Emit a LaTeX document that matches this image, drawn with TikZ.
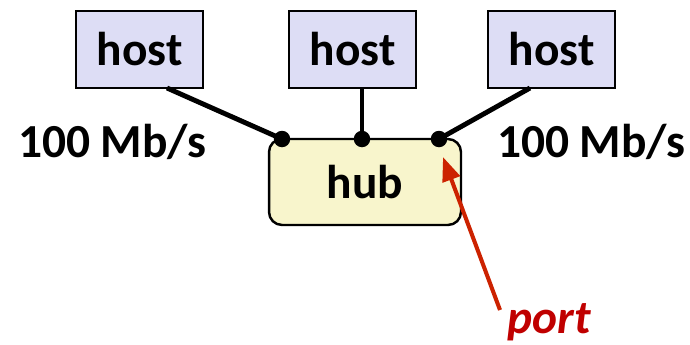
\documentclass[tikz,border=0pt]{standalone}
\usepackage{fontspec}
\setmainfont{Carlito}
\usetikzlibrary{arrows.meta,positioning}
\definecolor{hostfill}{RGB}{221,221,245}
\definecolor{hubfill}{RGB}{248,245,204}
\definecolor{arrowred}{RGB}{204,34,0}
\definecolor{portred}{RGB}{192,0,0}
\tikzset{
  hostbox/.style={draw=black, line width=1.4pt, fill=hostfill, minimum width=2.54cm, minimum height=1.54cm, inner sep=0pt, font=\fontsize{27}{32}\selectfont\bfseries},
  hubbox/.style={draw=black, line width=1.4pt, fill=hubfill, rounded corners=0.26cm, minimum width=3.84cm, minimum height=1.72cm, inner sep=0pt, font=\fontsize{27}{32}\selectfont\bfseries},
  rate/.style={font=\fontsize{27}{32}\selectfont\bfseries},
  link/.style={line width=2.8pt},
  portdot/.style={circle, fill=black, minimum size=0.33cm, inner sep=0pt}
}
\begin{document}
\begin{tikzpicture}[x=0.02cm,y=-0.02cm]
	\useasboundingbox (0,0) rectangle (690,345);
	\node[hostbox] (h1) at (139.5,49.5) {host};
	\node[hostbox] (h2) at (352.5,49.5) {host};
	\node[hostbox] (h3) at (551.5,49.5) {host};
	\node[hubbox] (hub) at (365,182) {\raisebox{-0.1cm}{hub}};
	\node[portdot] (p1) at (282,139) {};
	\node[portdot] (p2) at (362,139) {};
	\node[portdot] (p3) at (439,139) {};
	\coordinate (c1) at (167,88);
	\coordinate (c3) at (530,88);
	\draw[link] (c1) -- (p1.center);
	\draw[link] (h2.south -| p2) -- (p2.center);
	\draw[link] (c3) -- (p3.center);
	\node[rate] (r1) at (112,142) {100 Mb/s};
	\node[rate] (r2) at (591,142) {100 Mb/s};
	\node[font=\fontsize{27}{32}\selectfont\bfseries\itshape, text=portred] (port) at (549,322) {port};
	\coordinate (a0) at (500,310);
	\coordinate (tip) at (443,157);
	\draw[-{Triangle[length=0.48cm,width=0.36cm]}, line width=2.3pt, arrowred] (a0) -- (tip);
\end{tikzpicture}
\end{document}
